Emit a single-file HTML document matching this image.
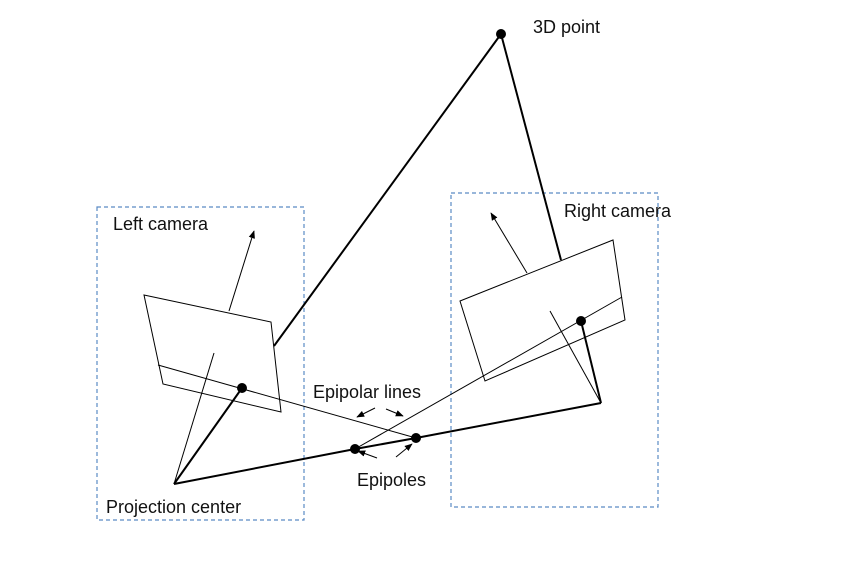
<!DOCTYPE html>
<html><head><style>
html,body{margin:0;padding:0;background:#fff;}
svg{display:block;}
text{font-family:"Liberation Sans",sans-serif;font-size:18px;fill:#111;}
</style></head><body>
<svg width="850" height="568" viewBox="0 0 850 568" xmlns="http://www.w3.org/2000/svg">
<defs>
<marker id="a" viewBox="0 0 10 10" refX="9" refY="5" markerWidth="8" markerHeight="8" orient="auto"><path d="M0,1 L10,5 L0,9 z" fill="#000"/></marker>
</defs>
<g fill="none" stroke="#5b8bc4" stroke-width="1.2" stroke-dasharray="4,3">
<rect x="97" y="207" width="207" height="313"/>
<rect x="451" y="193" width="207" height="314"/>
</g>
<g stroke="#000" fill="none" stroke-width="1">
<polygon points="144,295 271,322 281,412 163,384"/>
<line x1="158" y1="365" x2="416" y2="438"/>
<line x1="229" y1="311" x2="254" y2="231" marker-end="url(#a)"/>
<line x1="174" y1="484" x2="214" y2="353"/>
<polygon points="460,301 613,240 625,320 485,381"/>
<line x1="527" y1="273" x2="491" y2="213" marker-end="url(#a)"/>
<line x1="550" y1="311" x2="601" y2="403"/>
<line x1="355" y1="449" x2="622" y2="297"/>
<line x1="375" y1="408" x2="357" y2="417" marker-end="url(#a)"/>
<line x1="386" y1="409" x2="403" y2="416" marker-end="url(#a)"/>
<line x1="377" y1="458" x2="358" y2="451" marker-end="url(#a)"/>
<line x1="396" y1="457" x2="412" y2="444" marker-end="url(#a)"/>
</g>
<g stroke="#000" fill="none" stroke-width="2">
<line x1="174" y1="484" x2="242" y2="388"/>
<polyline points="174,484 355,449 416,438 601,403"/>
<line x1="581" y1="321" x2="601" y2="403"/>
<line x1="274" y1="346" x2="501" y2="34"/>
<line x1="501" y1="34" x2="561" y2="260"/>
</g>
<g fill="#000">
<circle cx="501" cy="34" r="5"/>
<circle cx="242" cy="388" r="5"/>
<circle cx="581" cy="321" r="5"/>
<circle cx="355" cy="449" r="5"/>
<circle cx="416" cy="438" r="5"/>
</g>
<text x="533" y="33">3D point</text>
<text x="113" y="230">Left camera</text>
<text x="564" y="217">Right camera</text>
<text x="313" y="398">Epipolar lines</text>
<text x="357" y="486">Epipoles</text>
<text x="106" y="513">Projection center</text>
</svg>
</body></html>
